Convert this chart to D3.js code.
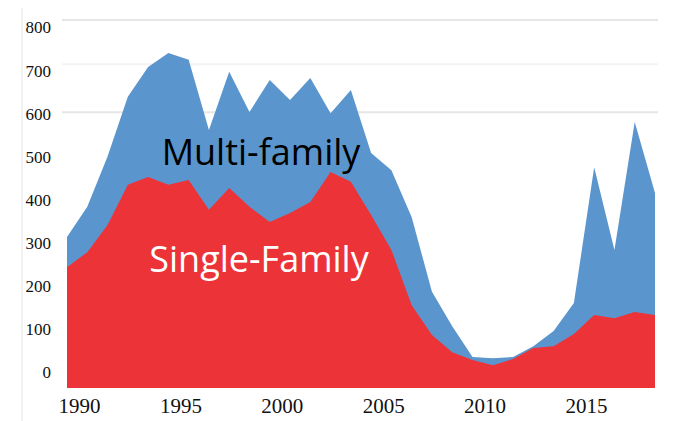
<!DOCTYPE html>
<html>
<head>
<meta charset="utf-8">
<script src="https://cdn.jsdelivr.net/npm/d3@7"></script>
<style>
  html, body { margin: 0; padding: 0; background: #fff; }
  svg { display: block; }
</style>
</head>
<body>
<svg id="chart" width="678" height="421"></svg>
<script>
// ---- data ----
const years = [1990,1991,1992,1993,1994,1995,1996,1997,1998,1999,
               2000,2001,2002,2003,2004,2005,2006,2007,2008,2009,
               2010,2011,2012,2013,2014,2015,2016,2017,2018,2019];
const singleFamily = [243,278,341,434,452,434,445,376,427,383,
                      348,369,394,464,441,364,283,155,86,46,
                      28,16,30,56,60,88,132,125,139,132];
const multiFamily  = [70,105,159,204,255,306,279,185,269,220,
                      329,262,288,136,213,144,185,204,100,60,
                      7,16,5,4,35,72,343,158,441,283];
const yTicks = [0,100,200,300,400,500,600,700,800];
const xTicks = [1990,1995,2000,2005,2010,2015];
const seriesNames = ["Single-Family","Multi-family"];

// ---- build ----
const svg = d3.select("#chart");
const table = years.map((yr,i) => ({year: yr, single: singleFamily[i], multi: multiFamily[i]}));

const x = d3.scaleLinear().domain([1990, 2019]).range([67, 655]);
const y = d3.scaleLinear().domain([-37, 800]).range([388, 27]);
const floor = y.domain()[0];

// faint frame line on left
svg.append("line").attr("x1", 22).attr("x2", 22).attr("y1", 8).attr("y2", 421)
  .attr("stroke", "#eeeeee").attr("stroke-width", 1.5);

// gridlines (faint)
[[800, "#e6e6e6", -7], [700, "#f3f3f3", -6], [600, "#e6e6e6", -1]].forEach(([v, c, off]) => {
  svg.append("line")
    .attr("x1", 62).attr("x2", 658)
    .attr("y1", y(v) + off).attr("y2", y(v) + off)
    .attr("stroke", c).attr("stroke-width", 2);
});

const stack = d3.stack().keys(["single", "multi"]);
const layers = stack(table);

const colors = {single: "#ec3338", multi: "#5b95cd"};

// multi-family (total) area, then single-family on top
svg.append("path")
  .attr("fill", colors.multi)
  .attr("d", d3.area()
    .x(d => x(d.data.year))
    .y0(() => y(floor))
    .y1(d => y(d[1]))(layers[1]));
svg.append("path")
  .attr("fill", colors.single)
  .attr("d", d3.area()
    .x(d => x(d.data.year))
    .y0(() => y(floor))
    .y1(d => y(d[1]))(layers[0]));

// y axis labels
const yAxis = d3.axisLeft(y).tickValues(yTicks).tickSize(0).tickPadding(0);
const yg = svg.append("g")
  .attr("transform", "translate(51,0)").call(yAxis)
  .attr("font-family", "Liberation Serif");
yg.select(".domain").remove();
yg.selectAll("text")
  .style("font-family", "Liberation Serif, serif")
  .style("font-size", "17px").attr("fill", "#111")
  .attr("dy", "0.35em");

// x axis labels
const xAxis = d3.axisBottom(x).tickValues(xTicks).tickFormat(d3.format("d")).tickSize(0).tickPadding(0);
const xg = svg.append("g")
  .attr("transform", "translate(12,398)").call(xAxis)
  .attr("font-family", "Liberation Serif");
xg.select(".domain").remove();
xg.selectAll("text")
  .style("font-family", "Liberation Serif, serif")
  .style("font-size", "21px").attr("fill", "#111")
  .attr("dy", "0.71em");

// series labels
svg.append("text").text(seriesNames[1])
  .attr("x", 261).attr("y", 165)
  .attr("text-anchor", "middle")
  .style("font-family", "Open Sans, Noto Sans, sans-serif")
  .style("font-size", "36px").attr("fill", "#000");
svg.append("text").text(seriesNames[0])
  .attr("x", 259).attr("y", 272)
  .attr("text-anchor", "middle")
  .style("font-family", "Open Sans, Noto Sans, sans-serif")
  .style("font-size", "36px").attr("fill", "#fff");
</script>
</body>
</html>
